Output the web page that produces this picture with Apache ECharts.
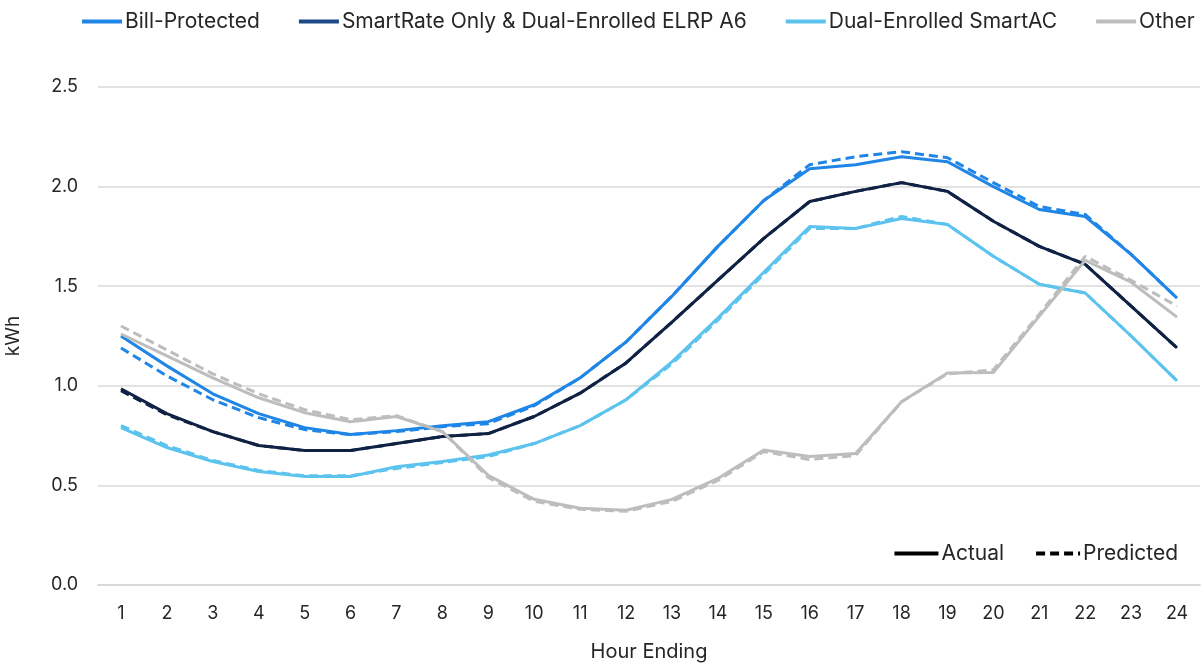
<!DOCTYPE html>
<html><head><meta charset="utf-8">
<script src="https://cdn.jsdelivr.net/npm/echarts@6/dist/echarts.min.js"></script>
<style>html,body{margin:0;padding:0;background:#fff}#c{width:1203px;height:665px}</style>
</head><body><div id="c"></div>
<script>
const hours = ['1','2','3','4','5','6','7','8','9','10','11','12','13','14','15','16','17','18','19','20','21','22','23','24'];
const yTicks = [0, 0.5, 1.0, 1.5, 2.0, 2.5];
const groupNames = ['Bill-Protected','SmartRate Only & Dual-Enrolled ELRP A6','Dual-Enrolled SmartAC','Other'];
const billActual    = [1.25,1.10,0.96,0.86,0.79,0.755,0.775,0.80,0.82,0.905,1.04,1.22,1.45,1.70,1.93,2.09,2.11,2.15,2.125,2.00,1.885,1.85,1.66,1.44];
const billPredicted = [1.19,1.05,0.93,0.84,0.78,0.755,0.77,0.795,0.81,0.90,1.04,1.22,1.45,1.70,1.93,2.11,2.15,2.175,2.145,2.02,1.90,1.86,1.66,1.44];
const srActual      = [0.985,0.86,0.77,0.70,0.675,0.675,0.71,0.745,0.76,0.846,0.963,1.115,1.32,1.53,1.74,1.925,1.976,2.02,1.976,1.826,1.70,1.61,1.40,1.19];
const srPredicted   = [0.975,0.855,0.77,0.70,0.675,0.675,0.71,0.745,0.76,0.846,0.963,1.115,1.32,1.53,1.74,1.925,1.976,2.02,1.976,1.826,1.70,1.61,1.40,1.19];
const acActual      = [0.79,0.69,0.62,0.57,0.545,0.545,0.594,0.62,0.653,0.71,0.80,0.93,1.12,1.34,1.57,1.80,1.79,1.84,1.81,1.65,1.51,1.466,1.25,1.025];
const acPredicted   = [0.80,0.70,0.625,0.575,0.548,0.548,0.585,0.615,0.645,0.71,0.80,0.93,1.11,1.33,1.56,1.79,1.79,1.85,1.81,1.65,1.51,1.466,1.25,1.025];
const otherActual   = [1.26,1.15,1.04,0.94,0.865,0.82,0.846,0.77,0.55,0.43,0.385,0.375,0.43,0.535,0.678,0.645,0.66,0.92,1.064,1.067,1.35,1.63,1.52,1.345];
const otherPredicted= [1.30,1.18,1.06,0.96,0.88,0.83,0.85,0.77,0.54,0.42,0.38,0.37,0.42,0.525,0.67,0.63,0.65,0.92,1.06,1.08,1.36,1.65,1.53,1.40];

const colors = ['#1f85e6','#0f2244','#5cc3ee','#bdbdbd'];
const legendColors = ['#1f85e6','#1b4a86','#5cc3ee','#bdbdbd'];
const actuals = [billActual, srActual, acActual, otherActual];
const preds = [billPredicted, srPredicted, acPredicted, otherPredicted];
const FONT = 'Inter';
const TXT = '#262626';
const series = [];
for (let i = 0; i < 4; i++) {
  series.push({name: groupNames[i], type:'line', data: actuals[i], symbol:'none', z: 3+i,
    lineStyle:{color: colors[i], width:3, type:'solid'}, itemStyle:{color: legendColors[i]}});
}
for (let i = 0; i < 4; i++) {
  series.push({name: groupNames[i], type:'line', data: preds[i], symbol:'none', z: 2,
    lineStyle:{color: colors[i], width:3, type:[9,5]}, itemStyle:{color: legendColors[i]}});
}
series.push({name:'Actual', type:'line', data:[], symbol:'none', lineStyle:{color:'#000', width:3, type:'solid'}, itemStyle:{color:'#000'}});
series.push({name:'Predicted', type:'line', data:[], symbol:'none', lineStyle:{color:'#000', width:3, type:[9,5]}, itemStyle:{color:'#000'}});

const chart = echarts.init(document.getElementById('c'));
chart.setOption({
  animation:false,
  backgroundColor:'#fff',
  legend:[{
    data: groupNames.map((n,i)=>({name:n, lineStyle:{color: legendColors[i]}})), top: 11, left: 80, width: 1123, padding: 0, itemWidth: 40, itemHeight: 14, itemGap: 37,
    itemStyle:{opacity:0}, lineStyle:{width:4},
    textStyle:{fontFamily:FONT, fontSize:21, color:TXT, padding:[0,0,0,-2]}
  },{
    data:['Actual','Predicted'], top: 538, right: 20, itemWidth: 44, itemHeight: 14, itemGap: 30,
    itemStyle:{opacity:0}, lineStyle:{width:4},
    textStyle:{fontFamily:FONT, fontSize:21, color:TXT, padding:[0,0,0,-2]}
  }],
  grid:{left:98, right:3, top:87, bottom:80, outerBoundsMode:'none', containLabel:false},
  xAxis:{type:'category', data: hours, boundaryGap:true,
    name:'Hour Ending', nameLocation:'middle', nameGap:57,
    nameTextStyle:{fontFamily:FONT, fontSize:20, color:TXT},
    axisLine:{lineStyle:{color:'#d9d9d9', width:2}}, axisTick:{show:false},
    axisLabel:{fontFamily:FONT, fontSize:18, color:TXT, margin:20}},
  yAxis:{type:'value', min: yTicks[0], max: yTicks[yTicks.length-1], interval:0.5,
    name:'kWh', nameLocation:'middle', nameGap:75, nameRotate:90,
    nameTextStyle:{fontFamily:FONT, fontSize:19, color:TXT},
    axisLine:{show:false}, axisTick:{show:false},
    splitLine:{lineStyle:{color:'#d9d9d9', width:1.5}},
    axisLabel:{fontFamily:FONT, fontSize:18, color:TXT, margin:20, formatter:v=>v.toFixed(1)}},
  series
});
</script></body></html>
